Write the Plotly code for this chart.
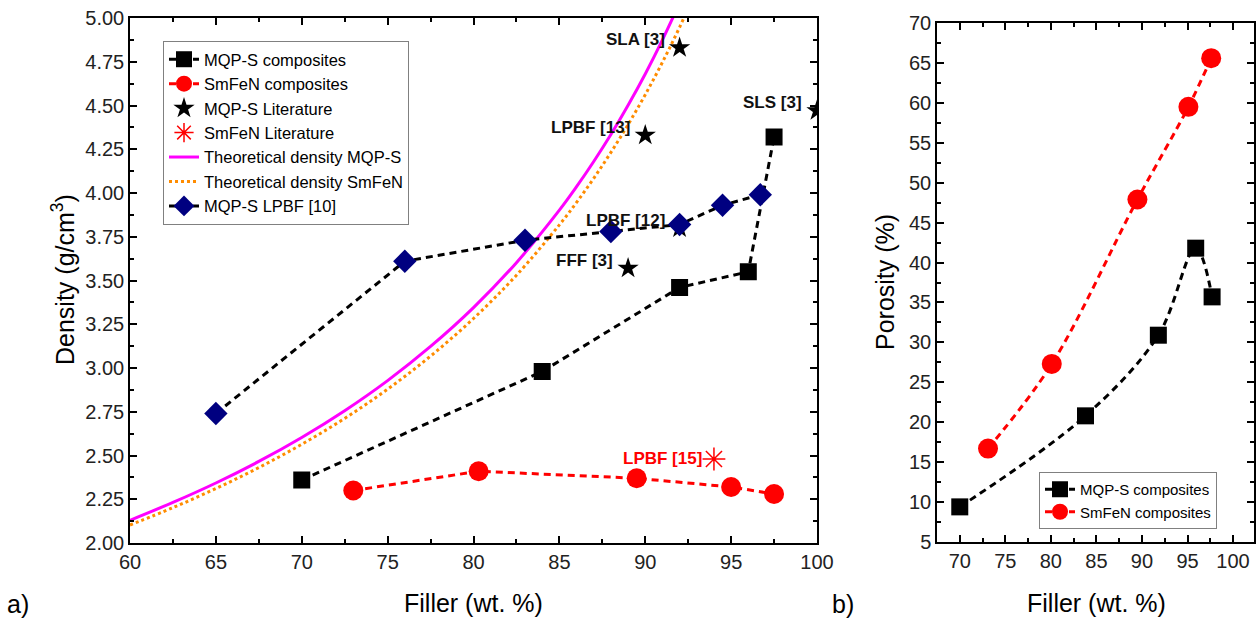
import plotly.graph_objects as go

# ---------------- data ----------------
# Panel a) density
mqp_x = [70, 84, 92, 96, 97.5]
mqp_density = [2.36, 2.98, 3.46, 3.55, 4.32]

smfen_x = [73, 80.3, 89.5, 95, 97.5]
smfen_density = [2.30, 2.41, 2.37, 2.32, 2.28]

lit_mqp_x = [92, 100, 90, 92, 89]
lit_mqp_density = [4.83, 4.47, 4.33, 3.80, 3.57]
lit_mqp_labels = ["SLA [3]", "SLS [3]", "LPBF [13]", "LPBF [12]", "FFF [3]"]

lit_smfen_x = [94]
lit_smfen_density = [2.48]
lit_smfen_labels = ["LPBF [15]"]

theo_mqp_x = [60, 62.5, 65, 67.5, 70, 72.5, 75, 77.5, 80, 82.5, 85, 86, 87, 88, 89, 90, 91, 92]
theo_mqp_density = [2.130, 2.232, 2.343, 2.466, 2.603, 2.756, 2.928, 3.123, 3.345, 3.602,
                    3.902, 4.036, 4.180, 4.334, 4.501, 4.680, 4.875, 5.086]

theo_smfen_x = [60, 62.5, 65, 67.5, 70, 72.5, 75, 77.5, 80, 82.5, 85, 86, 87, 88, 89, 90, 91, 92, 93]
theo_smfen_density = [2.103, 2.202, 2.311, 2.431, 2.564, 2.712, 2.879, 3.068, 3.283, 3.530,
                      3.818, 3.946, 4.084, 4.232, 4.391, 4.562, 4.747, 4.947, 5.165]

lpbf10_x = [65, 76, 83, 88, 92, 94.5, 96.7]
lpbf10_density = [2.74, 3.61, 3.73, 3.78, 3.82, 3.93, 3.99]

# Panel b) porosity
por_mqp_x = [70, 83.8, 91.8, 95.9, 97.7]
por_mqp = [9.4, 20.8, 30.9, 41.8, 35.7]

por_smfen_x = [73.1, 80.1, 89.5, 95.1, 97.6]
por_smfen = [16.7, 27.3, 47.9, 59.5, 65.6]

# ---------------- styling ----------------
FONT = "Liberation Sans, Arial, sans-serif"
BLACK = "#000000"
RED = "#FF0000"
NAVY = "#000080"
MAGENTA = "#FF00FF"
ORANGE = "#FF8C00"
DASH = "7px,5px"
W, H = 1258, 624

fig = go.Figure()

# --- panel a
fig.add_trace(go.Scatter(
    x=mqp_x, y=mqp_density, mode="lines+markers", name="MQP-S composites",
    line=dict(color=BLACK, width=3, dash=DASH),
    marker=dict(symbol="square", size=17, color=BLACK),
    xaxis="x", yaxis="y", legend="legend"))
fig.add_trace(go.Scatter(
    x=smfen_x, y=smfen_density, mode="lines+markers", name="SmFeN composites",
    line=dict(color=RED, width=3, dash=DASH),
    marker=dict(symbol="circle", size=20, color=RED),
    xaxis="x", yaxis="y", legend="legend"))
fig.add_trace(go.Scatter(
    x=lit_mqp_x, y=lit_mqp_density, mode="markers", name="MQP-S Literature",
    marker=dict(symbol="star", size=16, color=BLACK),
    xaxis="x", yaxis="y", legend="legend"))
fig.add_trace(go.Scatter(
    x=lit_smfen_x, y=lit_smfen_density, mode="markers", name="SmFeN Literature",
    marker=dict(symbol="asterisk-open", size=19, color=RED, line=dict(color=RED, width=1.5)),
    xaxis="x", yaxis="y", legend="legend"))
fig.add_trace(go.Scatter(
    x=theo_mqp_x, y=theo_mqp_density, mode="lines", name="Theoretical density MQP-S",
    line=dict(color=MAGENTA, width=3, shape="spline"),
    xaxis="x", yaxis="y", legend="legend"))
fig.add_trace(go.Scatter(
    x=theo_smfen_x, y=theo_smfen_density, mode="lines", name="Theoretical density SmFeN",
    line=dict(color=ORANGE, width=3, dash="dot", shape="spline"),
    xaxis="x", yaxis="y", legend="legend"))
fig.add_trace(go.Scatter(
    x=lpbf10_x, y=lpbf10_density, mode="lines+markers", name="MQP-S LPBF [10]",
    line=dict(color=BLACK, width=3, dash=DASH),
    marker=dict(symbol="diamond", size=18, color=NAVY),
    xaxis="x", yaxis="y", legend="legend"))

# --- panel b
fig.add_trace(go.Scatter(
    x=por_mqp_x, y=por_mqp, mode="lines+markers", name="MQP-S composites",
    line=dict(color=BLACK, width=3, dash=DASH, shape="spline"),
    marker=dict(symbol="square", size=17, color=BLACK),
    xaxis="x2", yaxis="y2", legend="legend2"))
fig.add_trace(go.Scatter(
    x=por_smfen_x, y=por_smfen, mode="lines+markers", name="SmFeN composites",
    line=dict(color=RED, width=3, dash=DASH, shape="spline"),
    marker=dict(symbol="circle", size=20, color=RED),
    xaxis="x2", yaxis="y2", legend="legend2"))

# annotations for literature points
annotations = []
for xv, yv, txt in zip(lit_mqp_x, lit_mqp_density, lit_mqp_labels):
    annotations.append(dict(x=xv, y=yv, xref="x", yref="y", text="<b>%s</b>" % txt,
                            showarrow=False, xanchor="right", yanchor="middle",
                            xshift=-13, yshift=8, font=dict(family=FONT, size=17, color="#111111")))
for xv, yv, txt in zip(lit_smfen_x, lit_smfen_density, lit_smfen_labels):
    annotations.append(dict(x=xv, y=yv, xref="x", yref="y", text="<b>%s</b>" % txt,
                            showarrow=False, xanchor="right", yanchor="middle",
                            xshift=-10, yshift=1, font=dict(family=FONT, size=17, color=RED)))

TITLE_FONT = dict(family=FONT, size=25, color=BLACK)
# panel labels and axis titles
annotations += [
    dict(x=18 / W, y=1 - 604 / H, text="a)", font=TITLE_FONT),
    dict(x=843 / W, y=1 - 604 / H, text="b)", font=TITLE_FONT),
    dict(x=473 / W, y=1 - 603 / H, text="Filler (wt. %)", font=TITLE_FONT),
    dict(x=1096 / W, y=1 - 603 / H, text="Filler (wt. %)", font=TITLE_FONT),
    dict(x=63 / W, y=1 - 280 / H, text="Density (g/cm<sup>3</sup>)", textangle=-90, font=TITLE_FONT),
    dict(x=885 / W, y=1 - 282 / H, text="Porosity (%)", textangle=-90, font=TITLE_FONT),
]
for a in annotations[-6:]:
    a.update(xref="paper", yref="paper", showarrow=False, xanchor="center", yanchor="middle")

axis_common = dict(showgrid=False, zeroline=False, showline=True, linecolor=BLACK, linewidth=1.5,
                   mirror="ticks", ticks="inside", ticklen=7, tickwidth=1.5, tickcolor=BLACK,
                   automargin=False,
                   tickfont=dict(family=FONT, size=20, color="#222222"))
minor_common = dict(ticks="inside", ticklen=4, tickwidth=1.5, tickcolor=BLACK)

fig.update_layout(
    width=W, height=H,
    margin=dict(l=0, r=0, t=0, b=0, autoexpand=False),
    paper_bgcolor="white", plot_bgcolor="white",
    font=dict(family=FONT, color=BLACK),
    showlegend=True,
    xaxis=dict(**axis_common, domain=[130 / W, 817 / W], range=[60, 100],
               tick0=60, dtick=5, anchor="y", minor=dict(dtick=2.5, **minor_common)),
    yaxis=dict(**axis_common, domain=[1 - 543 / H, 1 - 18 / H], range=[2, 5],
               tick0=2, dtick=0.25, tickformat=".2f", anchor="x",
               minor=dict(dtick=0.125, **minor_common)),
    xaxis2=dict(**axis_common, domain=[937 / W, 1254 / W], range=[67.5, 102.3],
                tick0=70, dtick=5, anchor="y2", minor=dict(dtick=2.5, **minor_common)),
    yaxis2=dict(**axis_common, domain=[1 - 542 / H, 1 - 23 / H], range=[5, 70],
                tick0=5, dtick=5, anchor="x2", minor=dict(dtick=2.5, **minor_common)),
    legend=dict(x=163 / W, y=1 - 41 / H, xanchor="left", yanchor="top",
                bgcolor="white", bordercolor="#808080", borderwidth=1,
                font=dict(family=FONT, size=16.5, color=BLACK), tracegroupgap=0,
                itemwidth=30),
    legend2=dict(x=1039 / W, y=1 - 472 / H, xanchor="left", yanchor="top",
                 bgcolor="white", bordercolor="#808080", borderwidth=1,
                 font=dict(family=FONT, size=15, color=BLACK), tracegroupgap=0,
                 itemwidth=30),
    annotations=annotations,
)

fig.write_html(
    "out.html",
    config={"displayModeBar": False},
    post_script="document.body.style.margin='0';document.body.style.overflow='hidden';",
)
